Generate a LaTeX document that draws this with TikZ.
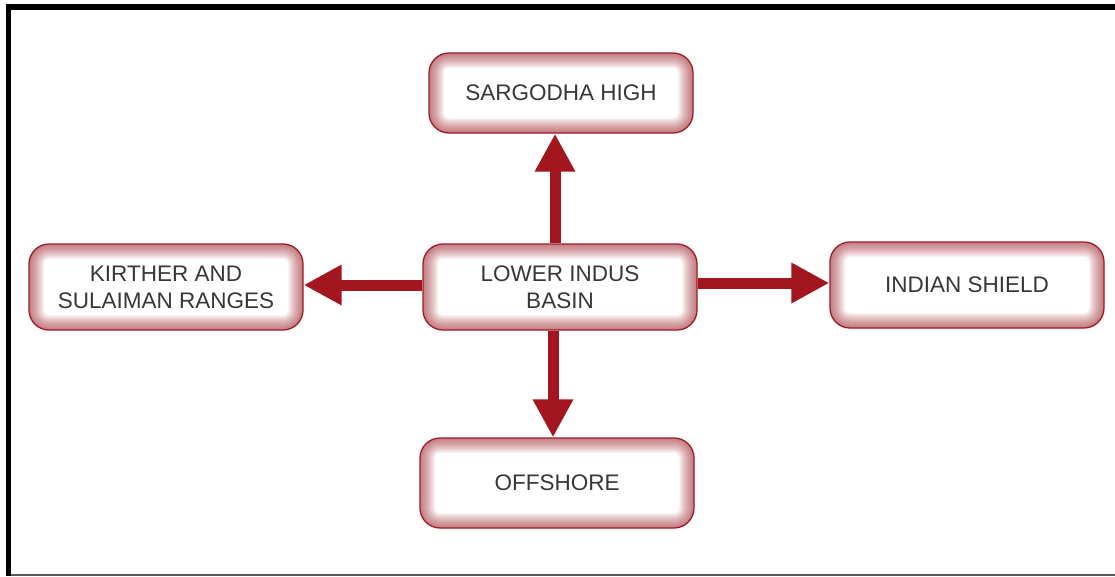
\documentclass[tikz,border=0pt]{standalone}
\usepackage{fontspec}
\setmainfont{Liberation Sans}
\usetikzlibrary{arrows.meta}
\definecolor{boxred}{RGB}{158,28,38}
\definecolor{arrowred}{RGB}{163,22,32}
\definecolor{textgray}{RGB}{55,55,55}

\begin{document}
\begin{tikzpicture}[x=1pt,y=-1pt,
    basin/.style={draw=boxred, line width=1.3pt, rounded corners=20pt, fill=white,
      minimum width=274pt, minimum height=86pt, align=center, text=textgray,
      font=\fontsize{22.5}{27}\selectfont,
      path picture={
        \foreach \w in {2,4,...,30}
          \draw[boxred, line width=\w pt, opacity=0.05, rounded corners=20pt]
            (path picture bounding box.south west) rectangle (path picture bounding box.north east);
      }},
    flow/.style={arrowred, line width=11pt, -{Triangle[length=38pt,width=38pt]}}]
  \useasboundingbox (0,0) rectangle (1115,576);

  % frame
  \draw[line width=2pt, black!65] (6,575) -- (1115,575);
  \fill (6,4) rectangle (1115,10);
  \fill (6,4) rectangle (11,576);

  \node[basin] (lib) at (560,287) {LOWER INDUS\\BASIN};
  \node[basin, minimum width=264pt, minimum height=80pt] (sarg) at (561,93) {SARGODHA HIGH};
  \node[basin] (kir) at (166,287) {KIRTHER AND\\SULAIMAN RANGES};
  \node[basin] (ind) at (967,285) {INDIAN SHIELD};
  \node[basin, minimum height=90pt] (off) at (557,483) {OFFSHORE};

  \coordinate (up0) at ([xshift=-5pt]lib.north);
  \coordinate (dn0) at ([xshift=-7pt]lib.south);
  \coordinate (lt0) at ([yshift=2pt]lib.west);
  \coordinate (rt0) at ([yshift=4pt]lib.east);

  \draw[flow] (up0) -- (up0 |- sarg.south);
  \draw[flow] (dn0) -- (dn0 |- off.north);
  \draw[flow] (lt0) -- (lt0 -| kir.east);
  \draw[flow] (rt0) -- (rt0 -| ind.west);
\end{tikzpicture}
\end{document}
